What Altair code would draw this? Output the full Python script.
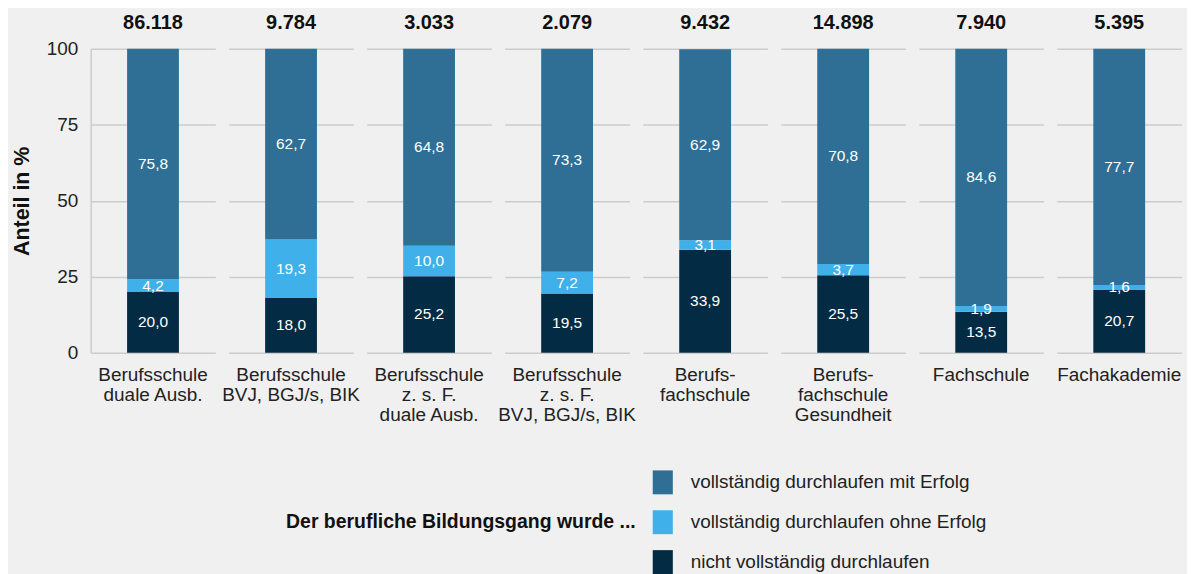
import altair as alt
import pandas as pd

kategorien = [
    "Berufsschule|duale Ausb.",
    "Berufsschule|BVJ, BGJ/s, BIK",
    "Berufsschule|z. s. F.|duale Ausb.",
    "Berufsschule|z. s. F.|BVJ, BGJ/s, BIK",
    "Berufs-|fachschule",
    "Berufs-|fachschule|Gesundheit",
    "Fachschule",
    "Fachakademie",
]
gesamt = ["86.118", "9.784", "3.033", "2.079", "9.432", "14.898", "7.940", "5.395"]
nicht_vollstaendig = [20.0, 18.0, 25.2, 19.5, 33.9, 25.5, 13.5, 20.7]
ohne_erfolg = [4.2, 19.3, 10.0, 7.2, 3.1, 3.7, 1.9, 1.6]
mit_erfolg = [75.8, 62.7, 64.8, 73.3, 62.9, 70.8, 84.6, 77.7]

gruppen = [
    "vollständig durchlaufen mit Erfolg",
    "vollständig durchlaufen ohne Erfolg",
    "nicht vollständig durchlaufen",
]
farben = ["#2f6f95", "#3fb0ea", "#032c44"]

rows = []
for i, k in enumerate(kategorien):
    for rang, (g, werte) in enumerate(
        [(gruppen[2], nicht_vollstaendig), (gruppen[1], ohne_erfolg), (gruppen[0], mit_erfolg)]
    ):
        rows.append({"Kategorie": k, "Gesamt": gesamt[i], "Gruppe": g, "Rang": rang, "Wert": werte[i]})
df = pd.DataFrame(rows)

FONT = "Liberation Sans"

bars = alt.Chart().mark_bar(size=52).encode(
    x=alt.X("Kategorie:N", title=None,
            axis=alt.Axis(labelExpr="split(datum.label, '|')", labelAngle=0, ticks=False,
                          domain=False, labelFontSize=19, labelLineHeight=20, labelPadding=13,
                          labelColor="#222222", labelFont=FONT, labelLimit=300)),
    y=alt.Y("y0:Q", scale=alt.Scale(domain=[0, 100]), title="Anteil in %",
            axis=alt.Axis(values=[0, 25, 50, 75, 100], ticks=False, domain=True,
                          domainColor="#cccccc", domainWidth=1.5, gridColor="#cccccc",
                          gridWidth=1.5, labelFontSize=19, labelColor="#222222", labelFont=FONT,
                          labelPadding=13, titleFontSize=21.5, titleFontWeight="bold",
                          titleFont=FONT, titleColor="#111111", titlePadding=13)),
    y2="y1:Q",
    color=alt.Color("Gruppe:N", scale=alt.Scale(domain=gruppen, range=farben),
                    legend=alt.Legend(
                        title="Der berufliche Bildungsgang wurde ...",
                        orient="none", legendX=196, legendY=423, direction="vertical",
                        titleOrient="left", titleAnchor="middle", titleBaseline="middle",
                        titleFontSize=19.5, titleFontWeight="bold", titleFont=FONT,
                        titleColor="#111111", titlePadding=14, titleLimit=500,
                        symbolType="M-0.84,-1H0.84V1H-0.84Z", symbolSize=576,
                        symbolStrokeWidth=0, labelFontSize=19, labelFont=FONT,
                        labelColor="#222222", labelOffset=16, rowPadding=16, labelLimit=500)),
)

texts = alt.Chart().mark_text(color="white", fontSize=15.5, font=FONT, baseline="middle").encode(
    x=alt.X("Kategorie:N"),
    y=alt.Y("mid:Q"),
    text=alt.Text("Etikett:N"),
)

layer = alt.layer(bars, texts, data=df).transform_stack(
    stack="Wert", groupby=["Kategorie"], sort=[alt.SortField("Rang", order="ascending")],
    as_=["y0", "y1"]
).transform_calculate(
    mid="(datum.y0 + datum.y1) / 2",
    Etikett="replace(format(datum.Wert, '.1f'), '.', ',')",
).properties(width=125, height=305)

chart = layer.facet(
    column=alt.Column("Gesamt:N", sort=gesamt,
                      header=alt.Header(title=None, labelFontSize=20, labelFontWeight="bold",
                                        labelFont=FONT, labelColor="#111111", labelPadding=16)),
    spacing=13.5,
).resolve_scale(x="independent").configure(
    background="#f0f0f0",
).configure_view(stroke=None).properties(
    bounds="flush", padding={"left": 3, "top": 4, "right": 5, "bottom": 5}
)

chart.save("out.html", embed_options={"renderer": "svg", "actions": False})
